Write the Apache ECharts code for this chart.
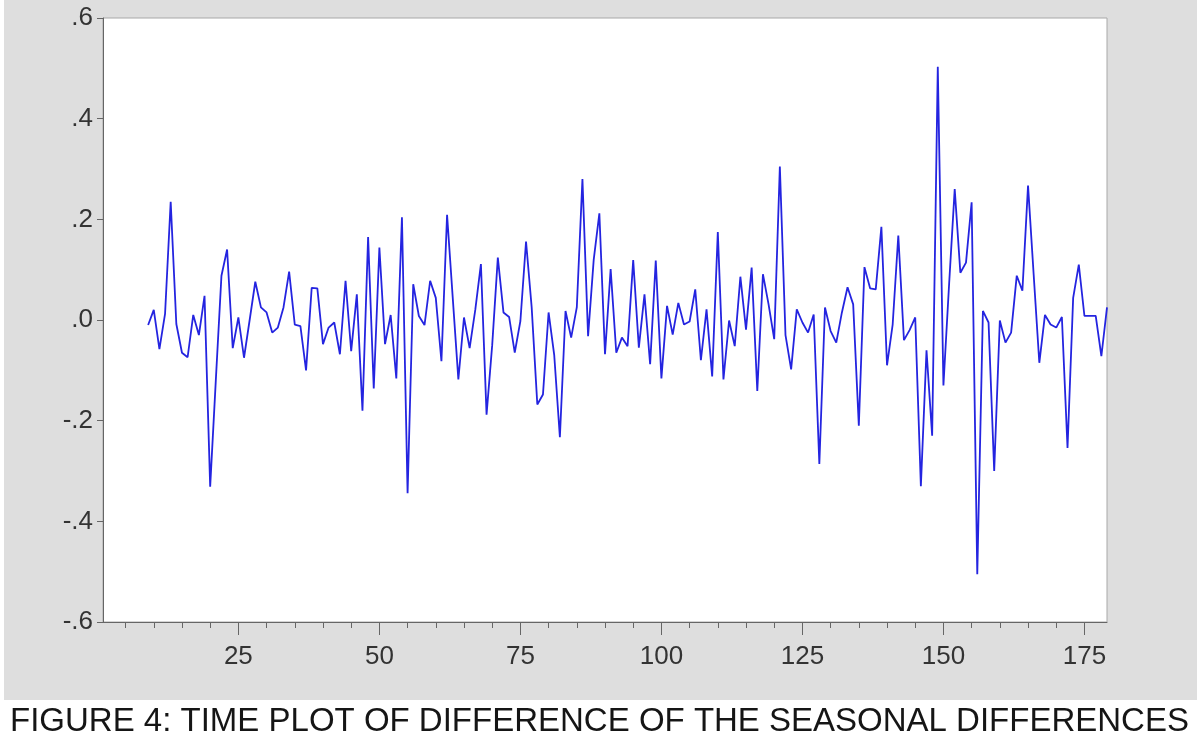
<!DOCTYPE html>
<html><head><meta charset="utf-8">
<script src="https://cdn.jsdelivr.net/npm/echarts@6/dist/echarts.min.js"></script>
<style>html,body{margin:0;padding:0;background:#fff}#c{width:1201px;height:740px}</style>
</head><body><div id="c"></div>
<script>
// Observation index range
const firstObs = 9;
const lastObs = 179;
const values = [
  -0.01, 0.02, -0.058, 0.012, 0.235, -0.008, -0.065, -0.074, 0.01, -0.03,
  0.048, -0.331, -0.12, 0.088, 0.14, -0.056, 0.005, -0.075, 0.0, 0.076,
  0.025, 0.015, -0.025, -0.015, 0.025, 0.096, -0.009, -0.012, -0.10, 0.064,
  0.063, -0.048, -0.015, -0.005, -0.068, 0.078, -0.062, 0.051, -0.18, 0.165,
  -0.136, 0.144, -0.048, 0.01, -0.116, 0.204, -0.344, 0.071, 0.008, -0.01,
  0.078, 0.044, -0.082, 0.209, 0.045, -0.118, 0.005, -0.056, 0.02, 0.111,
  -0.188, -0.05, 0.124, 0.015, 0.006, -0.065, -0.002, 0.156, 0.025, -0.168,
  -0.148, 0.015, -0.07, -0.233, 0.018, -0.035, 0.025, 0.28, -0.032, 0.12,
  0.212, -0.068, 0.101, -0.065, -0.035, -0.052, 0.119, -0.055, 0.051, -0.088,
  0.118, -0.116, 0.028, -0.029, 0.034, -0.009, -0.003, 0.061, -0.08, 0.021,
  -0.112, 0.175, -0.118, -0.001, -0.052, 0.086, -0.019, 0.104, -0.141, 0.091,
  0.031, -0.038, 0.305, -0.03, -0.098, 0.021, -0.005, -0.025, 0.011, -0.286,
  0.025, -0.022, -0.045, 0.015, 0.065, 0.031, -0.21, 0.105, 0.063, 0.061,
  0.185, -0.09, -0.009, 0.168, -0.04, -0.02, 0.005, -0.33, -0.06, -0.23,
  0.503, -0.13, 0.07, 0.26, 0.094, 0.114, 0.234, -0.505, 0.018, -0.005,
  -0.30, -0.001, -0.045, -0.025, 0.088, 0.058, 0.267, 0.09, -0.085, 0.01,
  -0.009, -0.015, 0.006, -0.254, 0.044, 0.11, 0.008, 0.008, 0.008, -0.072,
  0.025
];
// Tick settings / labels
const xMinorStep = 5;
const xLabelStep = 25;
const yTicks = [-0.6, -0.4, -0.2, 0, 0.2, 0.4, 0.6];
const yTickLabels = ['-.6', '-.4', '-.2', '.0', '.2', '.4', '.6'];
const titleText = 'FIGURE 4: TIME PLOT OF DIFFERENCE OF THE SEASONAL DIFFERENCES';

const categories = [];
for (let i = 1; i <= lastObs; i++) categories.push(String(i));
const seriesData = categories.map(c => {
  const n = +c;
  return n < firstObs ? null : values[n - firstObs];
});

const font = "'Liberation Sans', Arial, sans-serif";
const chart = echarts.init(document.getElementById('c'), null, {renderer: 'canvas'});
chart.setOption({
  animation: false,
  backgroundColor: '#ffffff',
  graphic: [{
    type: 'rect', z: -100, silent: true,
    shape: {x: 4, y: 0, width: 1193, height: 700},
    style: {fill: '#dedede'}
  }],
  title: {
    text: titleText, left: 5, top: 700,
    textStyle: {fontFamily: font, fontSize: 33, fontWeight: 'normal', color: '#151515'}
  },
  grid: {
    left: 103, right: 94, top: 18, bottom: 118,
    show: true, backgroundColor: '#ffffff', borderColor: '#a8a8a8', borderWidth: 1
  },
  xAxis: [{
    type: 'category', data: categories, boundaryGap: false, position: 'bottom',
    axisLine: {show: true, onZero: false, lineStyle: {color: '#666', width: 1}},
    axisTick: {show: true, length: 6, interval: (i, v) => (+v) % xMinorStep === 0, lineStyle: {color: '#666'}},
    axisLabel: {show: false},
    splitLine: {show: false}
  }, {
    type: 'category', data: categories, boundaryGap: false, position: 'bottom',
    axisLine: {show: false, onZero: false},
    axisTick: {show: true, length: 13, interval: (i, v) => (+v) % xLabelStep === 0, lineStyle: {color: '#666'}},
    axisLabel: {
      show: true, interval: (i, v) => (+v) % xLabelStep === 0,
      fontFamily: font, fontSize: 26, color: '#333', margin: 22
    },
    splitLine: {show: false}
  }],
  yAxis: {
    type: 'value', min: -0.6, max: 0.6, interval: 0.2,
    axisLine: {show: true, lineStyle: {color: '#666', width: 1}},
    axisTick: {show: true, length: 6, lineStyle: {color: '#666'}},
    axisLabel: {
      fontFamily: font, fontSize: 26, color: '#333', margin: 10,
      formatter: v => {
        const i = yTicks.findIndex(t => Math.abs(t - v) < 1e-9);
        return i >= 0 ? yTickLabels[i] : '';
      }
    },
    splitLine: {show: false}
  },
  series: [{
    type: 'line', xAxisIndex: 0, data: seriesData,
    showSymbol: false, connectNulls: false,
    lineStyle: {color: '#2424e0', width: 1.8}
  }]
});
</script></body></html>
